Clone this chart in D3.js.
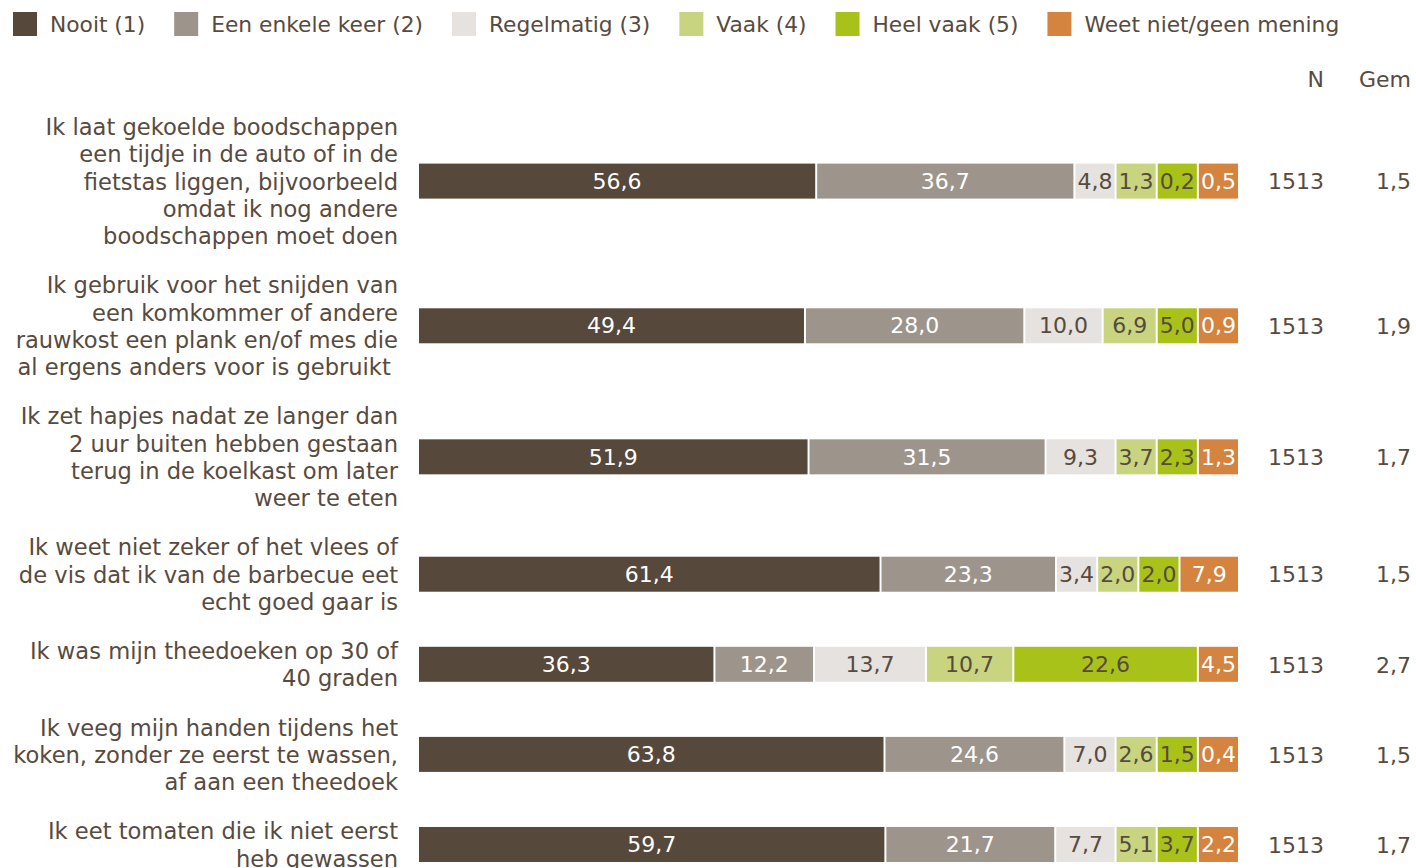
<!DOCTYPE html>
<html>
<head>
<meta charset="utf-8">
<script src="https://cdnjs.cloudflare.com/ajax/libs/d3/7.8.5/d3.min.js"></script>
<style>
  body { margin: 0; background: #fff; }
  svg text { font-family: Verdana, "DejaVu Sans", sans-serif; font-size: 22px; fill: #574a3e; }
  svg .legend text { font-size: 21.75px; }
  svg text.label { font-size: 22.6px; }
</style>
</head>
<body>
<div id="chart"></div>
<script>
// answer categories
var categories = ["Nooit (1)", "Een enkele keer (2)", "Regelmatig (3)", "Vaak (4)", "Heel vaak (5)", "Weet niet/geen mening"];
var colors = ["#56483b", "#9d958b", "#e6e2df", "#c8d47f", "#a9c21a", "#d4843e"];
var textColors = ["#fff", "#fff", "#574a3e", "#574a3e", "#574a3e", "#fff"];

// statements, one array of lines each
var statements = [
  ["Ik laat gekoelde boodschappen", "een tijdje in de auto of in de", "fietstas liggen, bijvoorbeeld", "omdat ik nog andere", "boodschappen moet doen"],
  ["Ik gebruik voor het snijden van", "een komkommer of andere", "rauwkost een plank en/of mes die", "al ergens anders voor is gebruikt\u00a0"],
  ["Ik zet hapjes nadat ze langer dan", "2 uur buiten hebben gestaan", "terug in de koelkast om later", "weer te eten"],
  ["Ik weet niet zeker of het vlees of", "de vis dat ik van de barbecue eet", "echt goed gaar is"],
  ["Ik was mijn theedoeken op 30 of", "40 graden"],
  ["Ik veeg mijn handen tijdens het", "koken, zonder ze eerst te wassen,", "af aan een theedoek"],
  ["Ik eet tomaten die ik niet eerst", "heb gewassen"]
];

// percentages per category
var nooit      = [56.6, 49.4, 51.9, 61.4, 36.3, 63.8, 59.7];
var enkele     = [36.7, 28.0, 31.5, 23.3, 12.2, 24.6, 21.7];
var regelmatig = [4.8, 10.0, 9.3, 3.4, 13.7, 7.0, 7.7];
var vaak       = [1.3, 6.9, 3.7, 2.0, 10.7, 2.6, 5.1];
var heelVaak   = [0.2, 5.0, 2.3, 2.0, 22.6, 1.5, 3.7];
var weetNiet   = [0.5, 0.9, 1.3, 7.9, 4.5, 0.4, 2.2];

var nValues = [1513, 1513, 1513, 1513, 1513, 1513, 1513];
var gem = ["1,5", "1,9", "1,7", "1,5", "2,7", "1,5", "1,7"];

var series = [nooit, enkele, regelmatig, vaak, heelVaak, weetNiet];

var width = 1416, height = 868,
    barLeft = 419, barRight = 1240,
    barHeight = 35, lineHeight = 27.3, rowGap = 0.8,
    minShare = 41 / 818;

var svg = d3.select("#chart").append("svg")
    .attr("width", width)
    .attr("height", height);

var fmt = function(v) { return d3.format(".1f")(v).replace(".", ","); };

// x: share of the bar (0..1)
var x = d3.scaleLinear().domain([0, 1]).range([barLeft, barRight]);

// y: line slots -> pixels
var y = d3.scaleLinear().domain([0.5, 1.5]).range([127, 127 + lineHeight]);

// small segments get a minimum width, the rest share what is left
function layout(values) {
  var fixed = values.map(function() { return false; });
  var changed = true;
  while (changed) {
    changed = false;
    var nFixed = fixed.filter(Boolean).length;
    var free = d3.sum(values.filter(function(v, i) { return !fixed[i]; }));
    var k = (1 - nFixed * minShare) / free;
    values.forEach(function(v, i) {
      if (!fixed[i] && v * k < minShare) { fixed[i] = true; changed = true; }
    });
  }
  var nFixed2 = fixed.filter(Boolean).length;
  var free2 = d3.sum(values.filter(function(v, i) { return !fixed[i]; }));
  var k2 = (1 - nFixed2 * minShare) / free2;
  var pos = 0;
  return values.map(function(v, i) {
    var s = fixed[i] ? minShare : v * k2;
    var seg = {i: i, value: v, x0: pos, x1: pos + s};
    pos += s;
    return seg;
  });
}

var start = 0;
var rows = statements.map(function(lines, r) {
  var row = {
    lines: lines,
    start: start,
    center: start + lines.length / 2,
    segs: layout(series.map(function(s) { return s[r]; })),
    n: nValues[r],
    gem: gem[r]
  };
  start += lines.length + rowGap;
  return row;
});

// legend
var legend = svg.append("g").attr("class", "legend");
var lx = 13;
categories.forEach(function(c, i) {
  var item = legend.append("g").attr("transform", "translate(" + lx + ",12)");
  item.append("rect").attr("width", 24).attr("height", 24).attr("fill", colors[i]);
  var t = item.append("text").attr("x", 37).attr("y", 12).attr("dy", "0.35em").text(c);
  lx += 37 + t.node().getComputedTextLength() + 29;
});

// column headers
svg.append("text").attr("x", 1324).attr("y", 79).attr("dy", "0.35em")
    .attr("text-anchor", "end").text("N");
svg.append("text").attr("x", 1411).attr("y", 79).attr("dy", "0.35em")
    .attr("text-anchor", "end").text("Gem");

var row = svg.selectAll(".row")
  .data(rows)
  .enter().append("g")
    .attr("class", "row");

row.selectAll(".label")
  .data(function(d) { return d.lines.map(function(l, j) { return {text: l, slot: d.start + j + 0.5}; }); })
  .enter().append("text")
    .attr("class", "label")
    .attr("x", 398)
    .attr("y", function(d) { return y(d.slot); })
    .attr("dy", "0.35em")
    .attr("text-anchor", "end")
    .text(function(d) { return d.text; });

var seg = row.selectAll(".seg")
  .data(function(d) { return d.segs.map(function(s) { s.cy = y(d.center) - 0.5; return s; }); })
  .enter().append("g")
    .attr("class", "seg");

seg.append("rect")
    .attr("x", function(d) { return x(d.x0); })
    .attr("y", function(d) { return d.cy - barHeight / 2; })
    .attr("width", function(d) { return x(d.x1) - x(d.x0) - 2; })
    .attr("height", barHeight)
    .attr("fill", function(d) { return colors[d.i]; });

seg.append("text")
    .attr("x", function(d) { return (x(d.x0) + x(d.x1) - 2) / 2; })
    .attr("y", function(d) { return d.cy; })
    .attr("dy", "0.35em")
    .attr("text-anchor", "middle")
    .style("fill", function(d) { return textColors[d.i]; })
    .text(function(d) { return fmt(d.value); });

row.append("text")
    .attr("x", 1324)
    .attr("y", function(d) { return y(d.center); })
    .attr("dy", "0.35em")
    .attr("text-anchor", "end")
    .text(function(d) { return d.n; });

row.append("text")
    .attr("x", 1411)
    .attr("y", function(d) { return y(d.center); })
    .attr("dy", "0.35em")
    .attr("text-anchor", "end")
    .text(function(d) { return d.gem; });
</script>
</body>
</html>
